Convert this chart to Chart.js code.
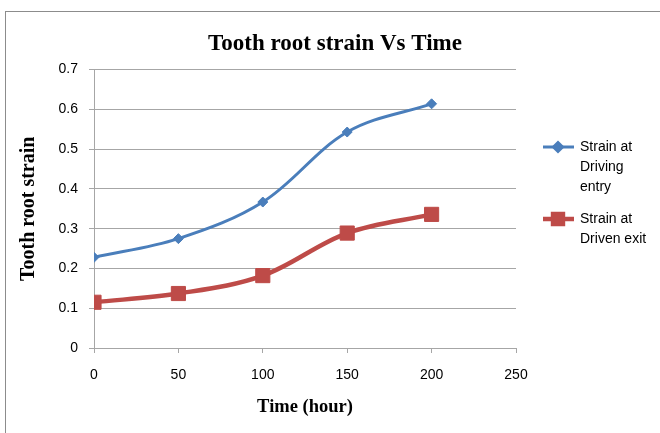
<!DOCTYPE html>
<html>
<head>
<meta charset="utf-8">
<script src="https://cdn.jsdelivr.net/npm/chart.js@4/dist/chart.umd.min.js"></script>
<style>
  html, body { margin: 0; padding: 0; background: #fff; }
  #wrap { position: relative; width: 660px; height: 433px; overflow: hidden; }
  #frame { position: absolute; left: 5px; top: 11px; width: 700px; height: 460px; border: 1px solid #8c8c8c; }
  #strain-chart { position: absolute; left: 0; top: 0; }
</style>
</head>
<body>
<div id="wrap">
  <div id="frame"></div>
  <canvas id="strain-chart" width="660" height="433"></canvas>
</div>
<script>
const hours = [0, 50, 100, 150, 200];
const drivingEntry = [0.228, 0.275, 0.367, 0.543, 0.614];
const drivenExit = [0.115, 0.137, 0.182, 0.289, 0.336];
const seriesNames = [["Strain at", "Driving", "entry"], ["Strain at", "Driven exit"]];

const sans = "'Liberation Sans', Arial, sans-serif";
const serif = "'Liberation Serif', 'Times New Roman', serif";
const gridColor = '#a6a6a6';

function points(values) {
    return hours.map((h, i) => ({ x: h, y: values[i] }));
}

// legend on the right with wrapped labels
const sideLegend = {
    id: 'sideLegend',
    afterDraw(chart) {
        const ctx = chart.ctx;
        const rows = [147, 219];
        ctx.save();
        chart.data.datasets.forEach((ds, i) => {
            const y = rows[i];
            ctx.strokeStyle = ds.borderColor;
            ctx.lineWidth = ds.borderWidth;
            ctx.beginPath();
            ctx.moveTo(543, y);
            ctx.lineTo(574, y);
            ctx.stroke();
            Chart.helpers.drawPoint(ctx, {
                pointStyle: ds.pointStyle,
                radius: i === 0 ? 4.5 : 7,
                borderWidth: 1
            }, 558, y);
            ctx.fillStyle = ds.backgroundColor;
            ctx.fill();
            ctx.fillStyle = '#000';
            ctx.font = '14px ' + sans;
            ctx.textBaseline = 'middle';
            seriesNames[i].forEach((line, j) => ctx.fillText(line, 580, y + j * 20));
        });
        ctx.restore();
    }
};

const ctx = document.getElementById('strain-chart').getContext('2d');
new Chart(ctx, {
    type: 'line',
    data: {
        datasets: [{
            label: seriesNames[0].join(' '),
            data: points(drivingEntry),
            borderColor: '#4a7ebb',
            backgroundColor: '#4a7ebb',
            borderWidth: 3,
            pointStyle: 'rectRot',
            pointRadius: 5,
            pointBorderWidth: 1,
            tension: 0.35
        }, {
            label: seriesNames[1].join(' '),
            data: points(drivenExit),
            borderColor: '#be4b48',
            backgroundColor: '#be4b48',
            borderWidth: 4.5,
            pointStyle: 'rect',
            pointRadius: 10,
            pointBorderWidth: 1,
            tension: 0.35
        }]
    },
    options: {
        responsive: false,
        animation: false,
        layout: { padding: { left: 10, top: 0, right: 0, bottom: 0 } },
        plugins: {
            legend: { display: false },
            tooltip: { enabled: false },
            title: {
                display: true,
                text: 'Tooth root strain Vs Time',
                color: '#000',
                font: { family: serif, size: 23, weight: 'bold', lineHeight: 1.2 },
                padding: { top: 30, bottom: 12 }
            }
        },
        scales: {
            x: {
                type: 'linear',
                min: 0,
                max: 250,
                ticks: { stepSize: 50, color: '#000', padding: 14, font: { family: sans, size: 14 } },
                grid: { drawOnChartArea: false, color: gridColor, tickLength: 5 },
                border: { color: gridColor },
                title: {
                    display: true,
                    text: 'Time (hour)',
                    color: '#000',
                    font: { family: serif, size: 18.5, weight: 'bold' },
                    padding: { bottom: 15 }
                },
                afterFit(scale) { scale.height = 85; }
            },
            y: {
                min: 0,
                max: 0.7,
                ticks: { stepSize: 0.1, color: '#000', padding: 11, font: { family: sans, size: 14 },
                    callback: v => Number(v.toFixed(1)) },
                grid: { color: gridColor, tickLength: 5 },
                border: { color: gridColor },
                title: {
                    display: true,
                    text: 'Tooth root strain',
                    color: '#000',
                    font: { family: serif, size: 20, weight: 'bold' },
                    padding: { top: 7 }
                },
                afterFit(scale) { scale.width = 84; }
            },
            // empty box that keeps room for the legend on the right
            side: {
                position: 'right',
                display: true,
                ticks: { display: false },
                grid: { display: false },
                border: { display: false },
                afterFit(scale) { scale.width = 144; }
            }
        }
    },
    plugins: [sideLegend]
});
</script>
</body>
</html>
